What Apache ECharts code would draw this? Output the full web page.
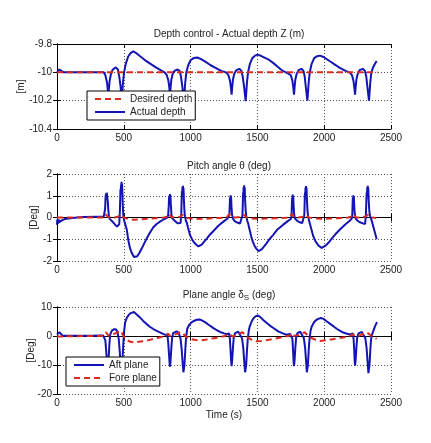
<!DOCTYPE html>
<html><head><meta charset="utf-8">
<script src="https://cdn.jsdelivr.net/npm/echarts@6/dist/echarts.min.js"></script>
<style>html,body{margin:0;padding:0;background:#fff}#c{width:431px;height:443px}</style>
</head><body><div id="c"></div>
<script>
// ---------- data (time s, value) ----------
const xTicks = [0, 500, 1000, 1500, 2000, 2500];
const depthYTicks = [-10.4, -10.2, -10, -9.8];
const pitchYTicks = [-2, -1, 0, 1, 2];
const planeYTicks = [-20, -10, 0, 10];

const depthDesired = [[0,-10],[2400,-10]];
const depthActual = [
[0,-10.0],[8,-9.99],[18,-9.98],[30,-9.99],[50,-10.0],[150,-10.0],[250,-10.0],[350,-10.0],
[362,-10.02],[374,-10.07],[380,-10.12],[384,-10.16],[388,-10.12],[394,-10.06],[404,-10.01],[418,-9.98],[440,-9.965],[456,-9.98],[466,-10.03],[476,-10.1],[480,-10.16],[484,-10.21],[488,-10.15],[494,-10.07],[502,-10.0],[515,-9.94],[532,-9.89],[550,-9.865],[571,-9.852],[590,-9.862],[620,-9.885],[660,-9.915],[700,-9.94],[740,-9.965],[775,-9.985],[805,-10.0],
[822,-10.02],[834,-10.06],[841,-10.11],[846,-10.16],[850,-10.11],[856,-10.05],[866,-10.01],[880,-9.99],[902,-9.98],[918,-9.99],[928,-10.03],[938,-10.1],[944,-10.15],[950,-10.21],[954,-10.15],[960,-10.07],[968,-10.0],[982,-9.95],[1000,-9.915],[1025,-9.898],[1050,-9.895],[1075,-9.905],[1110,-9.925],[1150,-9.95],[1190,-9.97],[1230,-9.99],[1265,-10.0],
[1283,-10.02],[1295,-10.06],[1302,-10.11],[1307,-10.157],[1311,-10.11],[1317,-10.05],[1327,-10.01],[1342,-9.985],[1365,-9.975],[1380,-9.99],[1390,-10.03],[1400,-10.1],[1406,-10.15],[1412,-10.203],[1416,-10.15],[1422,-10.07],[1430,-10.0],[1444,-9.94],[1462,-9.9],[1482,-9.882],[1502,-9.875],[1530,-9.885],[1581,-9.908],[1620,-9.935],[1656,-9.964],[1690,-9.99],[1715,-10.0],
[1750,-10.02],[1762,-10.06],[1769,-10.11],[1774,-10.157],[1778,-10.11],[1784,-10.05],[1794,-10.01],[1808,-9.985],[1830,-9.975],[1845,-9.99],[1854,-10.03],[1862,-10.1],[1868,-10.15],[1874,-10.2],[1878,-10.15],[1884,-10.07],[1892,-10.0],[1906,-9.94],[1925,-9.9],[1947,-9.886],[1969,-9.882],[1995,-9.892],[2040,-9.92],[2080,-9.945],[2120,-9.97],[2160,-9.99],[2190,-10.0],
[2208,-10.02],[2219,-10.06],[2226,-10.11],[2231,-10.157],[2235,-10.11],[2241,-10.05],[2251,-10.01],[2265,-9.985],[2288,-9.975],[2305,-9.99],[2315,-10.03],[2323,-10.1],[2329,-10.15],[2335,-10.2],[2339,-10.15],[2345,-10.07],[2353,-10.0],[2368,-9.96],[2380,-9.94],[2393,-9.92]
];

const pitchActual = [
[0,-0.34],[2,-0.1],[4,-0.3],[6,-0.08],[8,-0.28],[10,-0.1],[13,-0.25],[16,-0.1],[20,-0.2],[25,-0.12],[32,-0.16],[40,-0.12],[60,-0.07],[100,-0.03],[150,0.0],[200,0.02],[300,0.04],[350,0.05],
[356,0.08],[360,0.4],[363,0.85],[365,1.05],[367,0.9],[369,1.12],[371,0.95],[373,1.14],[375,1.0],[377,1.08],[380,0.75],[384,0.35],[388,0.08],[393,-0.05],[405,-0.12],[420,-0.22],[435,-0.33],[450,-0.42],[460,-0.45],[466,-0.3],[470,0.2],[473,0.8],[475,1.3],[477,1.1],[479,1.5],[481,1.3],[483,1.64],[485,1.35],[487,1.55],[490,1.0],[493,0.5],[497,0.05],[503,-0.15],[509,-0.27],[515,-0.3],[522,-0.55],[534,-1.05],[546,-1.4],[559,-1.62],[576,-1.82],[588,-1.84],[601,-1.78],[617,-1.62],[634,-1.43],[652,-1.2],[671,-0.97],[695,-0.7],[721,-0.45],[746,-0.3],[771,-0.19],[800,-0.08],[825,0.0],
[832,0.1],[836,0.5],[839,0.9],[841,1.0],[843,0.85],[845,1.08],[847,0.92],[849,1.02],[852,0.6],[856,0.2],[861,-0.02],[875,-0.12],[890,-0.2],[905,-0.27],[918,-0.31],[925,-0.25],[930,0.2],[933,0.8],[935,1.2],[937,1.05],[939,1.4],[941,1.2],[943,1.46],[945,1.25],[947,1.35],[950,0.8],[954,0.3],[958,0.05],[965,-0.15],[972,-0.25],[980,-0.45],[996,-0.81],[1015,-1.05],[1033,-1.2],[1045,-1.28],[1058,-1.33],[1070,-1.31],[1083,-1.25],[1100,-1.12],[1121,-0.97],[1146,-0.78],[1171,-0.62],[1208,-0.38],[1245,-0.19],[1275,-0.06],[1288,0.0],
[1290,0.1],[1293,0.55],[1295,0.9],[1297,0.8],[1299,1.02],[1301,0.85],[1303,0.95],[1306,0.5],[1310,0.15],[1316,-0.05],[1332,-0.18],[1350,-0.23],[1370,-0.28],[1382,-0.3],[1388,0.1],[1391,0.7],[1393,1.15],[1395,1.0],[1397,1.4],[1399,1.2],[1401,1.48],[1403,1.25],[1405,1.38],[1408,0.8],[1412,0.3],[1417,0.05],[1424,-0.15],[1432,-0.3],[1442,-0.58],[1455,-0.9],[1467,-1.13],[1480,-1.32],[1492,-1.43],[1509,-1.55],[1520,-1.53],[1534,-1.45],[1550,-1.33],[1567,-1.2],[1590,-1.0],[1617,-0.81],[1650,-0.55],[1691,-0.34],[1725,-0.18],[1750,-0.07],
[1755,0.05],[1758,0.5],[1760,0.9],[1762,0.8],[1764,1.06],[1766,0.88],[1768,0.98],[1771,0.55],[1775,0.15],[1781,-0.05],[1798,-0.15],[1818,-0.22],[1835,-0.26],[1846,-0.28],[1851,0.1],[1854,0.7],[1856,1.15],[1858,1.0],[1860,1.38],[1862,1.2],[1864,1.45],[1866,1.25],[1868,1.35],[1871,0.8],[1875,0.3],[1880,0.05],[1889,-0.2],[1900,-0.45],[1918,-0.86],[1935,-1.1],[1956,-1.28],[1970,-1.37],[1981,-1.4],[1995,-1.37],[2013,-1.28],[2035,-1.14],[2056,-0.97],[2085,-0.76],[2118,-0.55],[2155,-0.33],[2193,-0.14],[2208,-0.03],
[2210,0.1],[2212,0.5],[2214,0.9],[2216,0.8],[2218,1.02],[2220,0.85],[2222,0.95],[2225,0.5],[2229,0.15],[2235,-0.05],[2250,-0.15],[2268,-0.22],[2290,-0.27],[2306,-0.3],[2312,0.1],[2315,0.7],[2318,1.15],[2320,1.0],[2322,1.38],[2324,1.2],[2326,1.46],[2328,1.25],[2330,1.35],[2333,0.8],[2337,0.35],[2342,0.1],[2348,0.0],[2358,-0.2],[2368,-0.42],[2380,-0.7],[2393,-1.0]
];
const pitchDesired = [
[0,0.0],[340,0.0],[355,0.05],[362,0.15],[368,0.18],[374,0.12],[382,0.03],[400,0.0],[430,0.0],[460,0.05],[470,0.12],[478,0.14],[486,0.1],[495,0.03],[510,-0.03],[540,-0.08],[580,-0.1],[620,-0.09],[680,-0.06],[740,-0.03],[800,0.0],[825,0.04],[832,0.12],[838,0.17],[846,0.1],[856,0.02],[880,0.0],[920,0.03],[932,0.1],[940,0.12],[950,0.06],[965,0.0],[990,-0.04],[1040,-0.07],[1100,-0.06],[1160,-0.04],[1220,-0.02],[1270,0.0],[1280,0.05],[1287,0.15],[1292,0.2],[1300,0.12],[1310,0.02],[1340,0.0],[1380,0.03],[1390,0.1],[1397,0.13],[1406,0.06],[1420,0.0],[1450,-0.04],[1500,-0.06],[1560,-0.05],[1620,-0.04],[1690,-0.02],[1740,0.0],[1750,0.08],[1757,0.17],[1765,0.1],[1775,0.02],[1810,0.0],[1845,0.04],[1852,0.1],[1860,0.12],[1870,0.05],[1885,0.0],[1920,-0.04],[1980,-0.06],[2040,-0.05],[2100,-0.03],[2180,0.0],[2205,0.05],[2212,0.15],[2218,0.17],[2226,0.08],[2240,0.0],[2280,0.0],[2310,0.05],[2318,0.1],[2328,0.12],[2340,0.05],[2360,0.0],[2390,-0.02]
];

const aftPlane = [
[0,0.5],[8,1.0],[18,1.3],[28,0.8],[40,0.2],[60,0.1],[150,0.1],[250,0.1],[345,0.2],
[355,0.4],[362,-1.5],[368,-5],[374,-9],[380,-10.5],[386,-8],[392,-3],[398,0.5],[410,1.8],[425,2.3],[440,2.3],[452,1.5],[462,-1],[470,-5.5],[478,-11],[484,-13],[490,-9],[496,-3],[502,1.5],[510,4.7],[522,6.2],[534,7.1],[548,7.8],[562,8.15],[576,8.3],[590,7.8],[605,7.1],[621,6.4],[645,5.2],[671,4.1],[695,3.2],[721,2.4],[746,1.8],[771,1.25],[790,0.8],[808,0.45],
[818,0.6],[826,0.3],[832,-2],[838,-6],[843,-9.5],[846,-10.6],[850,-8.5],[856,-4],[862,-0.5],[870,1.0],[882,1.5],[895,1.6],[910,1.2],[925,-1],[933,-4.5],[940,-9],[946,-12.5],[950,-13],[954,-10],[960,-5],[966,-0.5],[975,2.5],[990,3.9],[1005,4.6],[1020,5.1],[1045,5.6],[1063,5.7],[1080,5.5],[1108,4.8],[1140,3.7],[1171,2.7],[1200,1.9],[1221,1.4],[1250,0.9],[1271,0.6],
[1280,0.8],[1288,0.9],[1294,-1],[1299,-5],[1304,-9],[1307,-10.4],[1311,-8.5],[1317,-4],[1323,-0.5],[1333,1.0],[1345,1.4],[1357,1.5],[1370,1.1],[1385,-0.8],[1394,-4],[1402,-9],[1408,-12.5],[1412,-13],[1416,-10],[1422,-5],[1428,-1],[1436,2],[1444,3.5],[1457,5],[1469,6.0],[1484,6.7],[1502,7.1],[1520,6.6],[1544,5.5],[1570,4.5],[1594,3.6],[1625,2.6],[1656,1.6],[1690,0.9],[1718,0.45],
[1745,0.7],[1755,0.9],[1762,-1],[1767,-5],[1771,-9],[1774,-10.4],[1778,-8.5],[1784,-4],[1790,-0.5],[1800,1.0],[1810,1.4],[1820,1.5],[1834,1.1],[1848,-0.8],[1857,-4],[1865,-9],[1870,-12.5],[1874,-13],[1878,-10],[1884,-5],[1890,-1],[1898,1.8],[1906,3.2],[1925,4.8],[1943,5.6],[1960,6.0],[1975,6.2],[1995,5.9],[2018,5.1],[2050,4.0],[2081,2.95],[2110,2.0],[2143,1.2],[2170,0.8],[2193,0.5],
[2205,0.7],[2214,0.9],[2220,-1],[2225,-5],[2228,-8.5],[2231,-10.2],[2235,-8.5],[2241,-4],[2247,-0.5],[2257,0.9],[2268,1.3],[2281,1.4],[2294,1.0],[2308,-0.8],[2317,-4],[2325,-9],[2331,-12.8],[2335,-13.3],[2339,-10],[2345,-5],[2351,-1],[2358,0.5],[2368,1.8],[2380,3.3],[2395,4.8]
];
const forePlane = [
[0,-0.2],[100,-0.1],[200,0.0],[300,0.0],[345,0.1],[358,0.7],[366,1.3],[374,1.1],[384,0.2],[395,-0.3],[410,0.2],[430,0.8],[445,1.1],[460,1.4],[472,2.0],[480,1.7],[490,0.6],[505,-0.5],[525,-1.4],[548,-2.0],[575,-2.2],[600,-2.1],[640,-1.8],[680,-1.5],[720,-1.0],[760,-0.6],[800,-0.1],[815,0.4],[825,0.9],[833,0.8],[842,0.1],[852,-0.3],[870,0.3],[900,0.8],[920,1.2],[933,1.5],[942,1.1],[955,0.2],[975,-0.5],[1000,-1.0],[1040,-1.4],[1070,-1.5],[1110,-1.3],[1160,-0.9],[1210,-0.5],[1258,0.0],[1275,0.6],[1285,1.0],[1295,0.6],[1305,0.0],[1315,-0.2],[1340,0.3],[1370,0.9],[1388,1.3],[1396,1.2],[1408,0.3],[1430,-0.6],[1460,-1.3],[1492,-1.8],[1530,-1.7],[1567,-1.5],[1620,-1.0],[1667,-0.6],[1710,-0.2],[1742,0.2],[1755,0.8],[1763,0.9],[1772,0.1],[1785,-0.2],[1810,0.3],[1835,0.9],[1855,1.3],[1862,1.2],[1874,0.3],[1900,-0.6],[1935,-1.3],[1968,-1.7],[2010,-1.5],[2050,-1.2],[2093,-0.9],[2140,-0.5],[2193,0.0],[2210,0.5],[2220,0.8],[2230,0.2],[2245,-0.2],[2270,0.3],[2300,0.8],[2320,1.3],[2330,1.2],[2342,0.4],[2360,-0.3],[2380,-0.7],[2393,-1.0]
];

// ---------- chart ----------
const FONT = '"Liberation Sans", Arial, sans-serif';
const BLUE = '#1414b4';
const RED = '#dc2a1e';
const grids = [
  {left:57, top:44, width:334, height:85},
  {left:57, top:174, width:334, height:87},
  {left:57, top:307, width:334, height:87}
];
const yRanges = [
  {min:-10.4, max:-9.8, interval:0.2, ticks:depthYTicks, name:'[m]', gap:31},
  {min:-2, max:2, interval:1, ticks:pitchYTicks, name:'[Deg]', gap:18},
  {min:-20, max:10, interval:10, ticks:planeYTicks, name:'[Deg]', gap:21}
];
const xAxes = [], yAxes = [];
grids.forEach((g, i) => {
  xAxes.push({
    type:'value', gridIndex:i, min:xTicks[0], max:xTicks[xTicks.length-1], interval:xTicks[1]-xTicks[0],
    axisLine:{show:true, lineStyle:{color:'#000', width:1}},
    axisTick:{show:true, inside:true, length:4, lineStyle:{color:'#000'}},
    axisLabel:{color:'#222', fontSize:10, fontFamily:FONT, margin:4, formatter: v => String(v)},
    splitLine:{show:true, lineStyle:{color:'#555', type:[1,2], width:1}},
    name: i === 2 ? 'Time (s)' : '', nameLocation:'middle', nameGap:16, nameMoveOverlap:false,
    nameTextStyle:{color:'#222', fontSize:10, fontFamily:FONT}
  });
  xAxes.push({
    type:'value', gridIndex:i, position:'top', min:xTicks[0], max:xTicks[xTicks.length-1], interval:xTicks[1]-xTicks[0],
    axisLine:{show:true, lineStyle:{color:'#000', width:1}},
    axisTick:{show:true, inside:true, length:4, lineStyle:{color:'#000'}},
    axisLabel:{show:false}, splitLine:{show:false}
  });
  const r = yRanges[i];
  yAxes.push({
    type:'value', gridIndex:i, min:r.min, max:r.max, interval:r.interval,
    axisLine:{show:true, lineStyle:{color:'#000', width:1}},
    axisTick:{show:true, inside:true, length:4, lineStyle:{color:'#000'}},
    axisLabel:{color:'#222', fontSize:10, fontFamily:FONT, margin:5,
      formatter: v => String(Math.round(v*10)/10)},
    splitLine:{show:true, lineStyle:{color:'#555', type:[1,2], width:1}},
    name:r.name, nameLocation:'middle', nameGap:r.gap, nameRotate:90, nameMoveOverlap:false,
    nameTextStyle:{color:'#222', fontSize:10, fontFamily:FONT}
  });
  yAxes.push({
    type:'value', gridIndex:i, position:'right', min:r.min, max:r.max, interval:r.interval,
    axisLine:{show:true, lineStyle:{color:'#000', width:1}},
    axisTick:{show:true, inside:true, length:4, lineStyle:{color:'#000'}},
    axisLabel:{show:false}, splitLine:{show:false}
  });
});

function line(name, data, gi, color, dashed, z) {
  return {
    name, type:'line', data, xAxisIndex:gi*2, yAxisIndex:gi*2,
    symbol:'none', showSymbol:false, smooth:false, z,
    lineStyle:{color, width: 2, type: dashed ? [6,4] : 'solid'},
    itemStyle:{color}, animation:false
  };
}
const legendCommon = {
  orient:'vertical', itemWidth:30, itemHeight:11, itemGap:3, padding:[3,3,3,7],
  backgroundColor:'#fff', borderColor:'#000', borderWidth:1, borderRadius:0, z:10,
  itemStyle:{opacity:0, color:'rgba(0,0,0,0)', borderColor:'rgba(0,0,0,0)', borderWidth:0},
  textStyle:{fontSize:10, color:'#222', fontFamily:FONT}, selectedMode:false
};

const chart = echarts.init(document.getElementById('c'), null, {renderer:'canvas'});
chart.setOption({
  animation:false,
  backgroundColor:'#fff',
  textStyle:{fontFamily:FONT},
  title:[
    {text:'Depth control - Actual depth Z (m)', left:224, top:24, textAlign:'center',
     textStyle:{fontSize:10, fontWeight:'normal', color:'#222', fontFamily:FONT}},
    {text:'Pitch angle θ (deg)', left:224, top:156, textAlign:'center',
     textStyle:{fontSize:10, fontWeight:'normal', color:'#222', fontFamily:FONT}},
    {text:'{a|Plane angle δ}{s|S}{a| (deg)}', left:224, top:283, textAlign:'center',
     textStyle:{fontSize:10, fontWeight:'normal', color:'#222', fontFamily:FONT,
       rich:{a:{fontSize:10, color:'#222', fontFamily:FONT}, s:{fontSize:8, color:'#222', fontFamily:FONT, padding:[6,0,0,0]}}}}
  ],
  legend:[
    Object.assign({data:['Desired depth','Actual depth'], left:87, top:91}, legendCommon),
    Object.assign({data:['Aft plane','Fore plane'], left:66, top:357}, legendCommon)
  ],
  grid: grids.map(g => Object.assign({show:false}, g)),
  xAxis: xAxes,
  yAxis: yAxes,
  series:[
    line('Actual depth', depthActual, 0, BLUE, false, 2),
    line('Desired depth', depthDesired, 0, RED, true, 3),
    line('Actual pitch', pitchActual, 1, BLUE, false, 2),
    line('Desired pitch', pitchDesired, 1, RED, true, 3),
    line('Aft plane', aftPlane, 2, BLUE, false, 2),
    line('Fore plane', forePlane, 2, RED, true, 3)
  ]
});
</script>
</body></html>
